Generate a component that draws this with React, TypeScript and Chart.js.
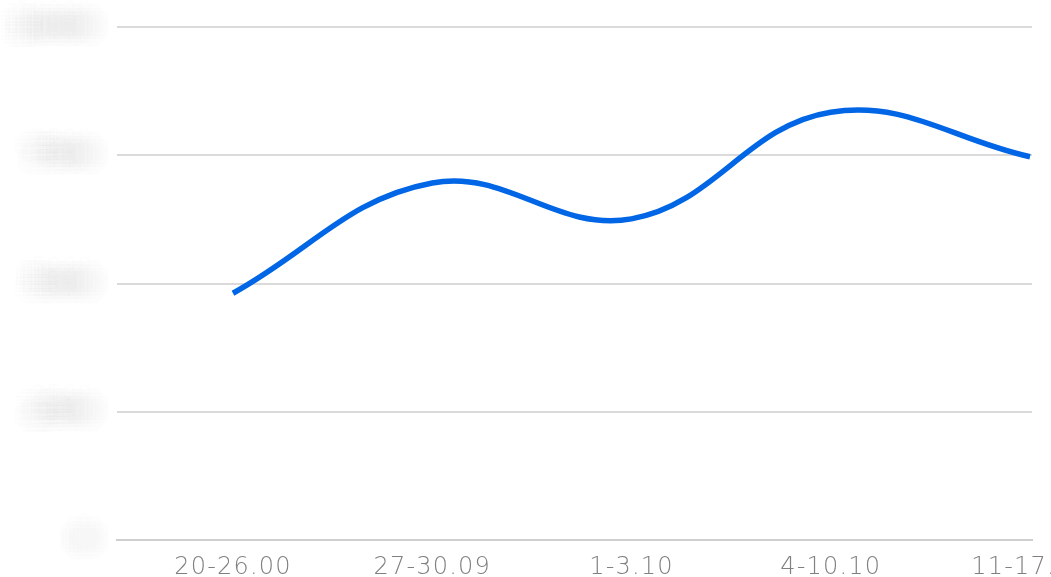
import React, { useEffect, useRef } from 'react';
import { Chart, registerables } from 'chart.js';
Chart.register(...registerables);

const weekLabels = ['20-26.00', '27-30.09', '1-3.10', '4-10.10', '11-17.10'];
const weekIndex = [0, 1, 2, 3, 4];
const values = [4810, 6960, 6260, 8340, 7470];
const yTickValues = [0, 2500, 5000, 7500, 10000];

export default function App() {
  const ref = useRef<HTMLCanvasElement>(null);
  useEffect(() => {
    const blurredYLabels = {
      id: 'blurredYLabels',
      beforeDraw(chart: any) {
        try {
          chart.ctx.letterSpacing = '1.2px';
        } catch (e) {}
      },
      afterDraw(chart: any) {
        const y = chart.scales.y;
        const ctx = chart.ctx;
        ctx.save();
        try {
          ctx.letterSpacing = '0px';
        } catch (e) {}
        ctx.font = 'bold 22px "DejaVu Sans"';
        ctx.textAlign = 'right';
        ctx.textBaseline = 'middle';
        ctx.fillStyle = 'rgba(0,0,0,0.008)';
        const RX = 21;
        const RY = 17;
        const step = 3.5;
        yTickValues.forEach((v) => {
          const py = y.getPixelForValue(v);
          for (let dx = -RX; dx <= RX; dx += step) {
            for (let dy = -RY; dy <= RY; dy += step) {
              if ((dx * dx) / (RX * RX) + (dy * dy) / (RY * RY) > 1) continue;
              ctx.fillText(String(v), 92 + dx, py + dy);
            }
          }
        });
        ctx.restore();
      },
    };
    const chart = new Chart(ref.current as HTMLCanvasElement, {
      type: 'line',
      data: {
        datasets: [
          {
            data: weekIndex.map((x, i) => ({ x, y: values[i] })),
            borderColor: '#0066e6',
            borderWidth: 5.5,
            tension: 0.4,
            pointRadius: 0,
            fill: false,
          },
        ],
      },
      options: {
        animation: false,
        responsive: true,
        maintainAspectRatio: false,
        layout: { padding: { top: 27, right: 19, left: 0, bottom: 0 } },
        plugins: { legend: { display: false }, tooltip: { enabled: false } },
        scales: {
          x: {
            type: 'linear',
            min: -0.582,
            max: 4.01,
            grid: { display: false },
            border: { display: true, color: '#cfcfcf', width: 2 },
            afterBuildTicks: (s: any) => {
              s.ticks = weekIndex.map((v) => ({ value: v }));
            },
            ticks: {
              callback: (_v: any, i: number) => weekLabels[i],
              autoSkip: false,
              maxRotation: 0,
              font: { family: '"DejaVu Sans"', size: 24, weight: '200' },
              color: '#808080',
              padding: 5,
            },
            afterFit: (s: any) => {
              s.height = 37;
              s.paddingLeft = 0;
              s.paddingRight = 0;
            },
          },
          y: {
            min: 0,
            max: 10000,
            afterBuildTicks: (s: any) => {
              s.ticks = yTickValues.map((v) => ({ value: v }));
            },
            ticks: { display: false },
            grid: { color: '#dadada', lineWidth: 2, drawTicks: false },
            border: { display: false },
            afterFit: (s: any) => {
              s.width = 117;
            },
          },
        },
      } as any,
      plugins: [blurredYLabels],
    });
    return () => chart.destroy();
  }, []);
  return (
    <div style={{ position: 'fixed', left: 0, top: 0, width: 1051, height: 577 }}>
      <canvas ref={ref} />
    </div>
  );
}
